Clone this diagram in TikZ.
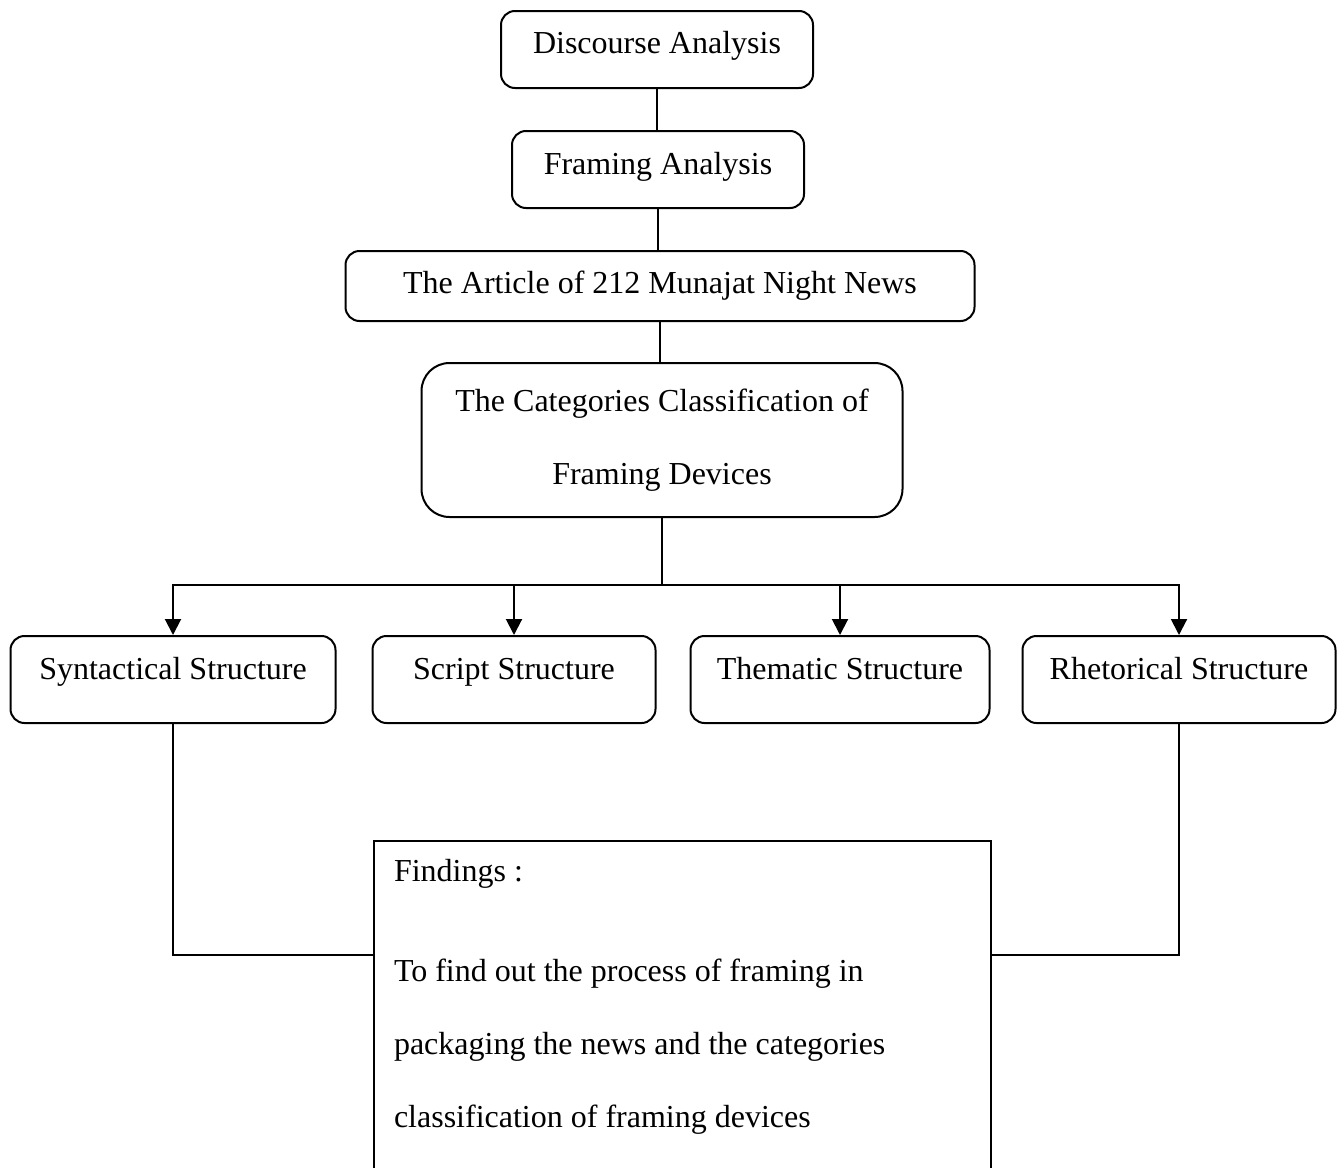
\documentclass[tikz,border=0pt]{standalone}
\usepackage{fontspec}
\setmainfont{Liberation Serif}
\usetikzlibrary{arrows.meta,calc}
\begin{document}
\begin{tikzpicture}[x=1pt,y=-1pt, font=\fontsize{32}{73}\selectfont,
  box/.style={draw, line width=2pt, rounded corners=14pt, inner sep=0pt},
  conn/.style={line width=2pt},
  arr/.style={line width=2pt, -{Triangle[width=16pt,length=16pt]}}]
\clip (0,0) rectangle (1338,1167);
\node[box, anchor=north, minimum width=312pt, text height=42pt, text depth=35pt] (da) at (657,10) {Discourse Analysis};
\node[box, anchor=north, minimum width=292pt, text height=43pt, text depth=34pt] (fa) at (658,130) {Framing Analysis};
\node[box, anchor=north, minimum width=629pt, text height=42pt, text depth=28pt] (art) at (660,250) {The Article of 212 Munajat Night News};
\node[box, rounded corners=28pt, anchor=north, minimum width=481pt, minimum height=154pt, align=center] (cat) at (662,362) {The Categories Classification of\\Framing Devices};
\node[box, anchor=north, minimum width=325pt, text height=43pt, text depth=44pt] (syn) at (173,635) {Syntactical Structure};
\node[box, anchor=north, minimum width=283pt, text height=43pt, text depth=44pt] (scr) at (514,635) {Script Structure};
\node[box, anchor=north, minimum width=299pt, text height=43pt, text depth=44pt] (thm) at (840,635) {Thematic Structure};
\node[box, anchor=north, minimum width=313pt, text height=43pt, text depth=44pt] (rhe) at (1179,635) {Rhetorical Structure};
\node[draw, line width=2pt, anchor=north west, inner xsep=20pt, inner ysep=18pt, text width=577pt, align=flush left] (fd) at (373,840) {Findings :\\[27pt]To find out the process of framing in\\packaging the news and the categories\\classification of framing devices\\[120pt]\mbox{}};
\draw[conn] (da.south) -- (da.south |- fa.north);
\draw[conn] (fa.south) -- (fa.south |- art.north);
\draw[conn] (art.south) -- (art.south |- cat.north);
\coordinate (hub) at ($(cat.south)+(0,67)$);
\draw[conn] (cat.south) -- (hub);
\draw[arr] (hub) -| (syn.north);
\draw[arr] (hub) -| (rhe.north);
\draw[arr] (scr.north |- hub) -- (scr.north);
\draw[arr] (thm.north |- hub) -- (thm.north);
\coordinate (fl) at ($(fd.north west)+(0,115)$);
\coordinate (fr) at ($(fd.north east)+(0,115)$);
\draw[conn] (syn.south) |- (fl);
\draw[conn] (rhe.south) |- (fr);
\end{tikzpicture}
\end{document}
